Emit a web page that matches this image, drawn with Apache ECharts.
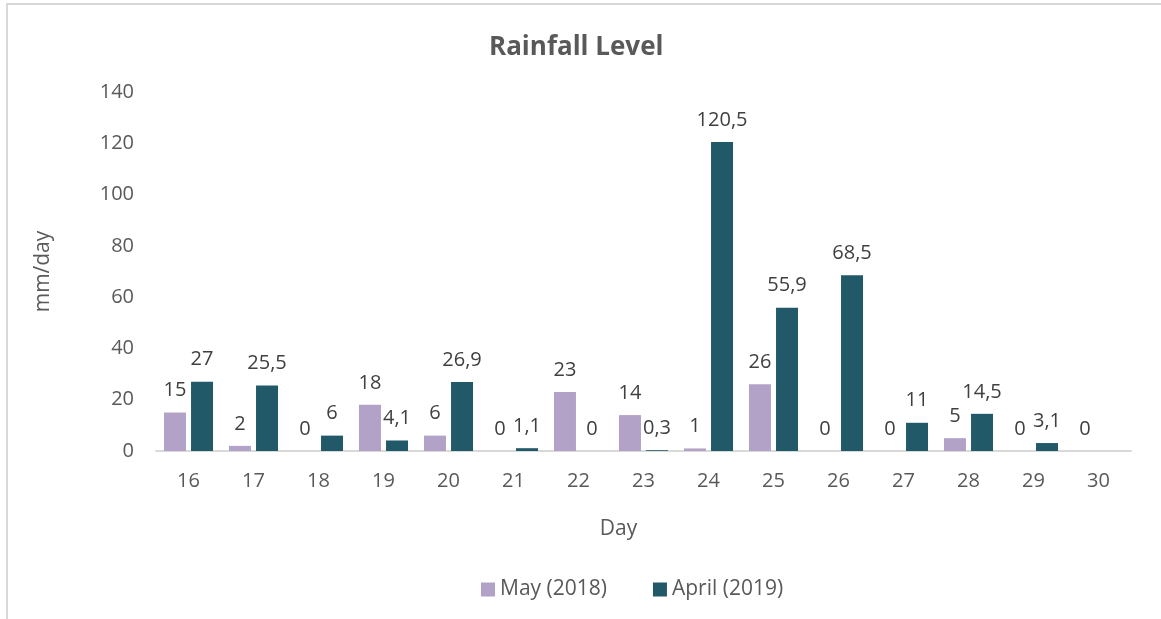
<!DOCTYPE html>
<html>
<head>
<meta charset="utf-8">
<script src="https://cdn.jsdelivr.net/npm/echarts@6/dist/echarts.min.js"></script>
<style>
  html, body { margin: 0; padding: 0; background: #fff; }
  #chart { width: 1161px; height: 619px; }
</style>
</head>
<body>
<div id="chart"></div>
<script>
var days = ['16', '17', '18', '19', '20', '21', '22', '23', '24', '25', '26', '27', '28', '29', '30'];
var may2018 = [15, 2, 0, 18, 6, 0, 23, 14, 1, 26, 0, 0, 5, 0, 0];
var april2019 = [27, 25.5, 6, 4.1, 26.9, 1.1, 0, 0.3, 120.5, 55.9, 68.5, 11, 14.5, 3.1, null];

var font = 'Open Sans';

function commaLabel(p) {
	return String(p.value).replace('.', ',');
}

function barSeries(name, data, color) {
	return {
		name: name,
		type: 'bar',
		data: data,
		barWidth: 22,
		barGap: '23%',
		itemStyle: { color: color },
		label: {
			show: true,
			position: 'top',
			distance: 12,
			color: '#404040',
			fontSize: 20,
			fontFamily: font,
			formatter: commaLabel
		}
	};
}

var chart = echarts.init(document.getElementById('chart'));
chart.setOption({
	animation: false,
	backgroundColor: '#fff',
	graphic: [ {
		type: 'rect',
		shape: { x: 7, y: 4, width: 1200, height: 700 },
		style: { fill: 'none', stroke: '#d9d9d9', lineWidth: 2 },
		z: -1
	} ],
	title: {
		text: 'Rainfall Level',
		left: 484,
		top: 30,
		textStyle: { color: '#595959', fontSize: 26, fontWeight: 'bold', fontFamily: font }
	},
	legend: {
		bottom: 14,
		left: 476,
		itemWidth: 14,
		itemHeight: 14,
		itemGap: 46,
		icon: 'rect',
		textStyle: { color: '#595959', fontSize: 21, fontFamily: font }
	},
	grid: { left: 156, right: 30, top: 92, bottom: 168 },
	xAxis: {
		type: 'category',
		data: days,
		name: 'Day',
		nameLocation: 'middle',
		nameGap: 68,
		nameTextStyle: { color: '#595959', fontSize: 21, fontFamily: font, padding: [0, 50, 0, 0] },
		axisLine: { lineStyle: { color: '#d9d9d9', width: 2 } },
		axisTick: { show: false },
		axisLabel: { color: '#595959', fontSize: 20, fontFamily: font, margin: 20 }
	},
	yAxis: {
		type: 'value',
		min: 0,
		max: 140,
		interval: 20,
		name: 'mm/day',
		nameLocation: 'middle',
		nameGap: 102,
		nameTextStyle: { color: '#595959', fontSize: 21, fontFamily: font },
		axisLine: { show: false },
		axisTick: { show: false },
		splitLine: { show: false },
		axisLabel: { color: '#595959', fontSize: 20, fontFamily: font, margin: 22 }
	},
	series: [
		barSeries('May (2018)', may2018, '#b3a2c7'),
		barSeries('April (2019)', april2019, '#215968')
	]
});
</script>
</body>
</html>
